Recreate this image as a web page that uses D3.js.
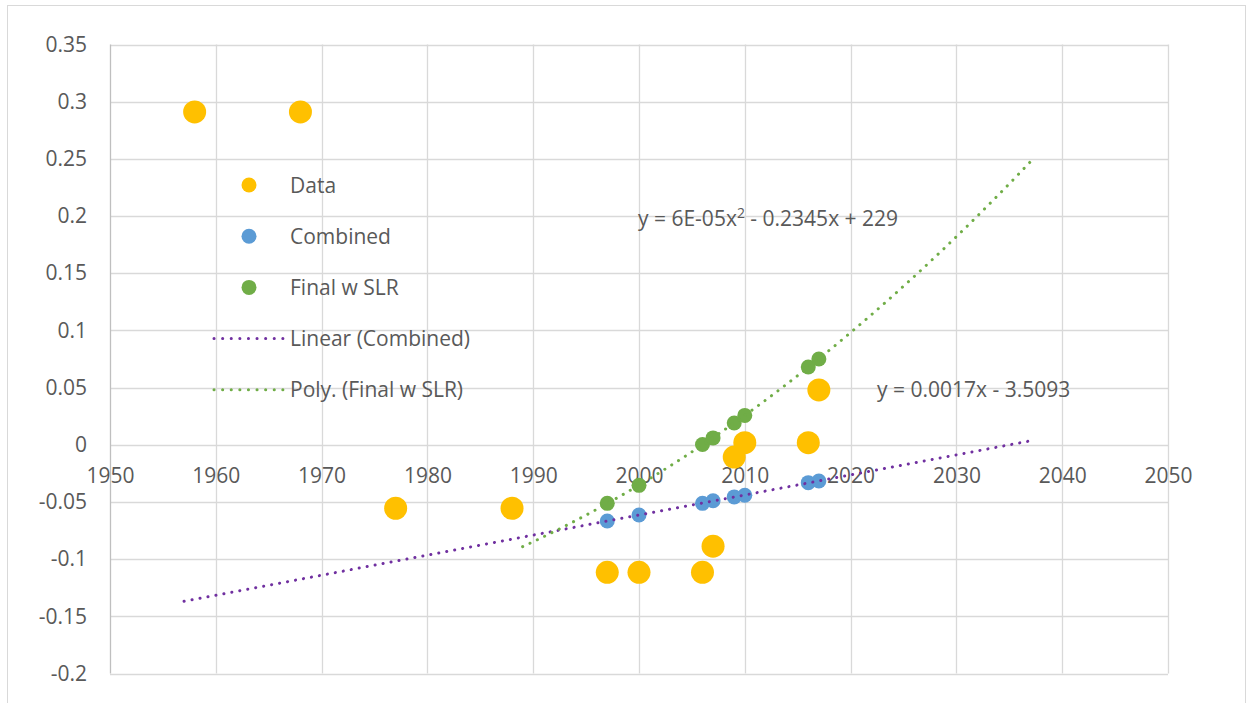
<!DOCTYPE html>
<html>
<head>
<meta charset="utf-8">
<script src="https://cdn.jsdelivr.net/npm/d3@7"></script>
<style>
  body { margin: 0; background: #fff; }
  svg { display: block; }
  text { font-family: "Open Sans", "Noto Sans", sans-serif; fill: #595959; }
</style>
</head>
<body>
<svg id="chart" width="1248" height="703"></svg>
<script>
const dataYears = [1958, 1968, 1977, 1988, 1997, 2000, 2006, 2007, 2009, 2010, 2016, 2017];
const dataValues = [0.291, 0.291, -0.0555, -0.0555, -0.1115, -0.1115, -0.1115, -0.0887, -0.0107, 0.0018, 0.0018, 0.048];

const combinedYears = [1997, 2000, 2006, 2007, 2009, 2010, 2016, 2017];
const combinedValues = [-0.0666, -0.0614, -0.0512, -0.049, -0.0456, -0.0442, -0.0331, -0.0317];

const finalYears = [1997, 2000, 2006, 2007, 2009, 2010, 2016, 2017];
const finalValues = [-0.0512, -0.0355, 0.0003, 0.006, 0.019, 0.0257, 0.068, 0.075];

// trendline ranges (forecast backward / forward as in the sheet)
const linearRange = [1957, 2037];
const polyRange = [1989, 2037];

const xTicks = [1950, 1960, 1970, 1980, 1990, 2000, 2010, 2020, 2030, 2040, 2050];
const yTicks = [-0.2, -0.15, -0.1, -0.05, 0, 0.05, 0.1, 0.15, 0.2, 0.25, 0.3, 0.35];

const legendItems = [
  { label: "Data", type: "dot", color: "#FFC000" },
  { label: "Combined", type: "dot", color: "#5B9BD5" },
  { label: "Final w SLR", type: "dot", color: "#70AD47" },
  { label: "Linear (Combined)", type: "line", color: "#7030A0" },
  { label: "Poly. (Final w SLR)", type: "line", color: "#70AD47" }
];

const svg = d3.select("#chart");

// chart frame
svg.append("rect").attr("x", 7.5).attr("y", 5.5).attr("width", 1238).attr("height", 720)
  .attr("fill", "none").attr("stroke", "#d9d9d9");

const x = d3.scaleLinear().domain([1950, 2050]).range([110, 1168]);
const y = d3.scaleLinear().domain([-0.2, 0.35]).range([673.5, 44.5]);

const fmt = v => String(+v.toFixed(2));

// gridlines
svg.append("g").selectAll("line").data(yTicks).join("line")
  .attr("x1", x(1950)).attr("x2", x(2050))
  .attr("y1", d => Math.round(y(d)) + 0.5).attr("y2", d => Math.round(y(d)) + 0.5)
  .attr("stroke", "#d9d9d9").attr("stroke-width", 1.3);
svg.append("g").selectAll("line").data(xTicks).join("line")
  .attr("y1", y(0.35)).attr("y2", y(-0.2))
  .attr("x1", d => Math.round(x(d)) + 0.5).attr("x2", d => Math.round(x(d)) + 0.5)
  .attr("stroke", d => d === 1950 ? "#bfbfbf" : "#d9d9d9").attr("stroke-width", 1.3);

// y axis labels
const yAxis = d3.axisLeft(y).tickValues(yTicks).tickFormat(fmt).tickSize(0).tickPadding(23);
const gy = svg.append("g").attr("transform", `translate(${x(1950)},0)`).call(yAxis);
gy.select(".domain").remove();
gy.selectAll("text").style("font-size", "21px").attr("fill", "#595959")
  .style("font-family", "'Open Sans', sans-serif");

// x axis labels sit below the zero line
const xAxis = d3.axisBottom(x).tickValues(xTicks).tickFormat(d3.format("d")).tickSize(0).tickPadding(23);
const gx = svg.append("g").attr("transform", `translate(0,${y(0)})`).call(xAxis);
gx.select(".domain").remove();
gx.selectAll("text").style("font-size", "21px").attr("fill", "#595959")
  .style("font-family", "'Open Sans', sans-serif");

// least squares polynomial fit (centred x for stability)
function polyFit(xs, ys, degree) {
  const mx = d3.mean(xs);
  const n = degree + 1;
  const A = Array.from({ length: n }, () => new Array(n + 1).fill(0));
  xs.forEach((xv, k) => {
    const t = xv - mx;
    for (let i = 0; i < n; i++) {
      for (let j = 0; j < n; j++) A[i][j] += Math.pow(t, i + j);
      A[i][n] += ys[k] * Math.pow(t, i);
    }
  });
  for (let i = 0; i < n; i++) {
    let p = i;
    for (let r = i + 1; r < n; r++) if (Math.abs(A[r][i]) > Math.abs(A[p][i])) p = r;
    [A[i], A[p]] = [A[p], A[i]];
    for (let r = 0; r < n; r++) {
      if (r === i) continue;
      const f = A[r][i] / A[i][i];
      for (let c = i; c <= n; c++) A[r][c] -= f * A[i][c];
    }
  }
  const coef = A.map((row, i) => row[n] / row[i]);
  return xv => coef.reduce((s, c, i) => s + c * Math.pow(xv - mx, i), 0);
}

const linFn = polyFit(combinedYears, combinedValues, 1);
const polyFn = polyFit(finalYears, finalValues, 2);

const line = d3.line().x(d => x(d[0])).y(d => y(d[1]));

function trend(fn, range, color) {
  const pts = d3.range(range[0], range[1] + 0.01, 0.5).map(t => [t, fn(t)]);
  svg.append("path").datum(pts).attr("d", line)
    .attr("fill", "none").attr("stroke", color).attr("stroke-width", 3)
    .attr("stroke-linecap", "round").attr("stroke-dasharray", "0.1 8");
}

// points
function dots(xs, ys, color, r) {
  svg.append("g").selectAll("circle").data(xs.map((d, i) => [d, ys[i]])).join("circle")
    .attr("cx", d => x(d[0])).attr("cy", d => y(d[1])).attr("r", r).attr("fill", color);
}

dots(dataYears, dataValues, "#FFC000", 11.5);
dots(combinedYears, combinedValues, "#5B9BD5", 7.5);
dots(finalYears, finalValues, "#70AD47", 7.5);
trend(linFn, linearRange, "#7030A0");
trend(polyFn, polyRange, "#70AD47");

// trendline equations
const eq1 = svg.append("text").attr("x", 638).attr("y", 226).style("font-size", "21px");
eq1.append("tspan").text("y = 6E-05x");
eq1.append("tspan").attr("dy", -8).style("font-size", "14px").text("2");
eq1.append("tspan").attr("dy", 8).text(" - 0.2345x + 229");

svg.append("text").attr("x", 877).attr("y", 397).style("font-size", "21px").text("y = 0.0017x - 3.5093");

// legend
const lg = svg.append("g");
const rows = lg.selectAll("g").data(legendItems).join("g")
  .attr("transform", (d, i) => `translate(0,${185 + i * 51.2})`);
rows.filter(d => d.type === "dot").append("circle")
  .attr("cx", 249).attr("cy", 0).attr("r", 7.5).attr("fill", d => d.color);
rows.filter(d => d.type === "line").append("line")
  .attr("x1", 214).attr("x2", 283).attr("y1", 0).attr("y2", 0)
  .attr("stroke", d => d.color).attr("stroke-width", 3)
  .attr("stroke-linecap", "round").attr("stroke-dasharray", "0.1 8.5");
rows.append("text").attr("x", 290).attr("y", 7.5).style("font-size", "21px").text(d => d.label);
</script>
</body>
</html>
